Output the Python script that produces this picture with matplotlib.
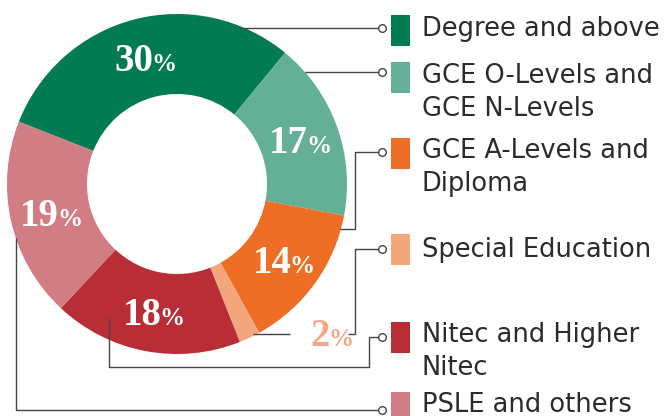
import numpy as np
import matplotlib.pyplot as plt
from matplotlib.patches import Rectangle

# data
categories = ['Degree and above', 'GCE O-Levels and\nGCE N-Levels', 'GCE A-Levels and\nDiploma',
              'Special Education', 'Nitec and Higher\nNitec', 'PSLE and others']
shares = [30, 17, 14, 2, 18, 19]
colors = ['#027b52', '#64b096', '#ee6e26', '#f4a67c', '#b92d37', '#d27d83']

H = 416
def Y(y):
    # pixel row -> data y
    return H - y

fig = plt.figure(figsize=(6.69, 4.16), dpi=100)
ax = fig.add_axes([0, 0, 1, 1])

cx, cy, r_out, r_in = 177, 184, 170, 90
start = 158.5
ax.pie(shares, colors=colors, startangle=start, counterclock=False,
       center=(cx, Y(cy)), radius=r_out, frame=True,
       wedgeprops=dict(width=r_out - r_in, linewidth=0))
ax.set_xlim(0, 669)
ax.set_ylim(0, H)
ax.axis('off')

# percentage labels inside the ring
ang = start
for i, v in enumerate(shares):
    span = v / sum(shares) * 360
    mid = np.deg2rad(ang - span / 2)
    ang -= span
    if v < 5:
        lx, ly, col = 321, 333, '#f0a888'
    else:
        lx, ly, col = cx + 130 * np.cos(mid), cy - 130 * np.sin(mid), 'white'
    ax.text(lx + 9, Y(ly + 13), str(v), ha='right', va='baseline', color=col,
            fontsize=28, fontweight='bold', family='Liberation Serif')
    ax.text(lx + 7, Y(ly + 13), '%', ha='left', va='baseline', color=col,
            fontsize=18, fontweight='bold', family='Liberation Serif')

# connector lines (pixel coords)
lc = '#444444'
paths = [
    [(240, 28), (378, 28)],
    [(305, 72), (378, 72)],
    [(340, 229), (355, 229), (355, 152), (378, 152)],
    [(253, 334), (290, 334)],
    [(348, 334), (355, 334), (355, 249), (378, 249)],
    [(109, 318), (109, 367), (369, 367), (369, 337), (378, 337)],
    [(16, 238), (16, 410), (378, 410)],
]
for p in paths:
    xs = [q[0] for q in p]
    ys = [Y(q[1]) for q in p]
    ax.plot(xs, ys, color=lc, lw=1.0, solid_capstyle='butt', zorder=3)

marker_y = [28, 72, 152, 249, 337, 410]
square_top = [15, 62, 138, 234, 322, 392]
text_base = [36, 83, 158, 257, 342, 412]
for i, cat in enumerate(categories):
    ax.plot(382, Y(marker_y[i]), 'o', ms=5.5, mfc='white', mec=lc, mew=1.0, zorder=4)
    ax.add_patch(Rectangle((391, Y(square_top[i] + 31)), 19, 31, color=colors[i], lw=0))
    for j, line in enumerate(cat.split('\n')):
        ax.text(422, Y(text_base[i] + 33 * j), line, ha='left', va='baseline', fontsize=18.5,
                color='#2b2b2b', family='DejaVu Sans')

fig.savefig('out.png', dpi=100)
